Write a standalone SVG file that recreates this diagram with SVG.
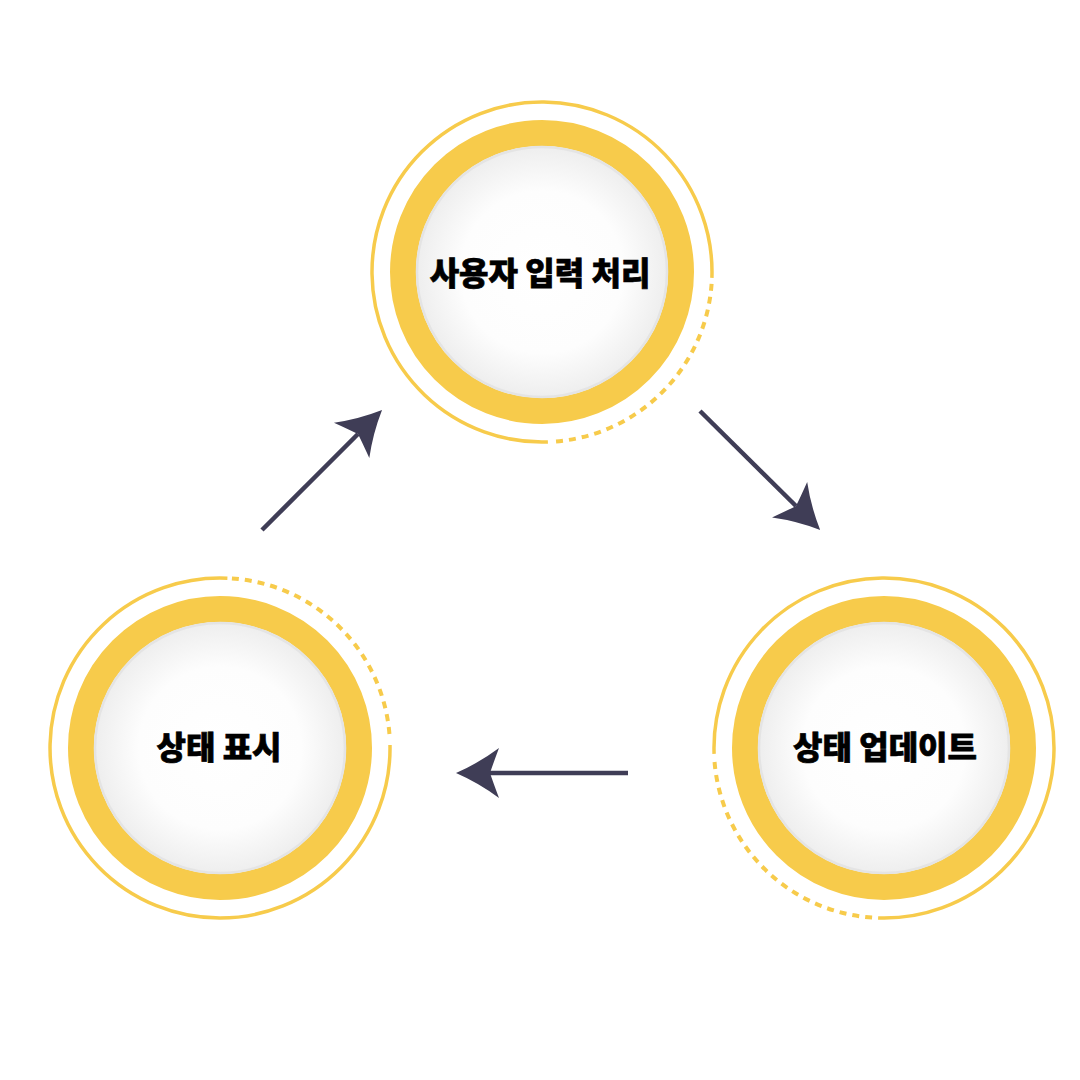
<svg xmlns="http://www.w3.org/2000/svg" width="1080" height="1080" viewBox="0 0 1080 1080">
  <style>
    .ring { fill: none; stroke: #F7CB4B; stroke-width: 26; }
    .outer { fill: none; stroke: #F7CB4B; stroke-width: 3.5; }
    .dash { fill: none; stroke: #F7CB4B; stroke-width: 4; stroke-dasharray: 7 6; }
    .core { fill: url(#coreGrad); stroke: #E4E4E4; stroke-width: 2.5; }
    .label { font-family: "Noto Sans CJK KR", "Noto Sans", sans-serif; font-weight: 900; font-size: 32px; fill: #000; stroke: #000; stroke-width: 0.7; text-anchor: middle; dominant-baseline: central; }
    .conn { fill: none; stroke: #3F3D56; stroke-width: 4.5; marker-end: url(#head); }
  </style>
  <defs>
    <radialGradient id="coreGrad" cx="50%" cy="50%" r="50%">
      <stop offset="0" stop-color="#FFFFFF"/>
      <stop offset="0.65" stop-color="#FDFDFD"/>
      <stop offset="1" stop-color="#EEEEEE"/>
    </radialGradient>
    <marker id="head" markerUnits="userSpaceOnUse" orient="auto" refX="0" refY="0" markerWidth="100" markerHeight="100" viewBox="-50 -50 100 100" overflow="visible">
      <path d="M34,0 Q11,-10 -9,-25 Q-3,-9 0,0 Q-3,9 -9,25 Q11,10 34,0 Z" fill="#3F3D56"/>
    </marker>
  </defs>
  <rect width="1080" height="1080" fill="#FFFFFF"/>

  <g id="node-input">
    <path class="outer" d="M547.9,441.9 A170,170 0 1 1 711.9,277.9"/>
    <path class="dash" d="M711.6,283.9 A170,170 0 0 1 553.9,441.6"/>
    <circle class="ring" cx="542" cy="272" r="139"/>
    <circle class="core" cx="542" cy="272" r="125"/>
    <text class="label" x="540" y="271">사용자 입력 처리</text>
  </g>

  <g id="node-update">
    <path class="outer" d="M714.1,753.9 A170,170 0 1 1 878.1,917.9"/>
    <path class="dash" d="M872.1,917.6 A170,170 0 0 1 714.4,759.9"/>
    <circle class="ring" cx="884" cy="748" r="139"/>
    <circle class="core" cx="884" cy="748" r="125"/>
    <text class="label" x="885" y="745">상태 업데이트</text>
  </g>

  <g id="node-display">
    <path class="outer" d="M390,745 A170,170 0 1 1 227.4,578.2"/>
    <path class="dash" d="M231.9,578.4 A170,170 0 0 1 389.8,739.1"/>
    <circle class="ring" cx="220" cy="748" r="139"/>
    <circle class="core" cx="220" cy="748" r="125"/>
    <text class="label" x="219" y="745">상태 표시</text>
  </g>

  <g id="connectors">
    <line class="conn" x1="700" y1="411" x2="796" y2="506"/>
    <line class="conn" x1="628" y1="773" x2="490" y2="773"/>
    <line class="conn" x1="262" y1="530" x2="358" y2="434"/>
  </g>
</svg>
